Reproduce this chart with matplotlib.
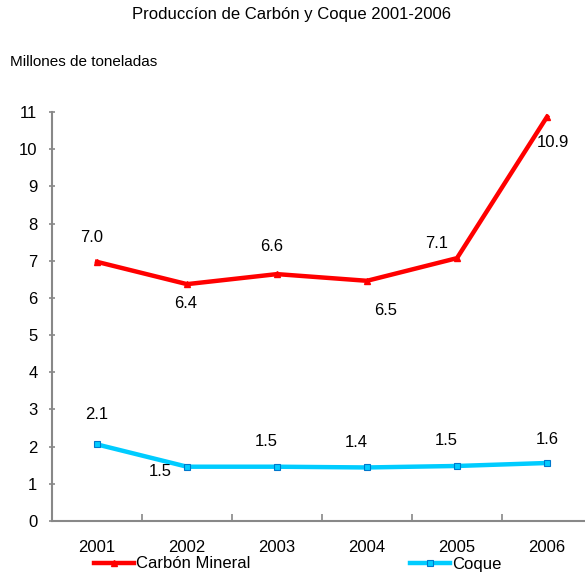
import matplotlib
matplotlib.use("Agg")
import matplotlib.pyplot as plt
from matplotlib.lines import Line2D

plt.rcParams['font.family'] = ['Liberation Sans', 'DejaVu Sans']

years = ['2001', '2002', '2003', '2004', '2005', '2006']
carbon = [6.97, 6.37, 6.64, 6.46, 7.07, 10.87]
coque = [2.06, 1.46, 1.46, 1.44, 1.48, 1.56]
# label offsets in pixels (dx, dy) from each point
carbon_off = [(-5, 24), (-1, -19), (-5, 28), (19, -30), (-20, 15), (6, -26)]
coque_off = [(0, 30), (-27, -5), (-11, 25), (-11, 25), (-11, 25), (0, 23)]

red = '#ff0000'
cyan = '#00ccff'

fig = plt.figure(figsize=(5.85, 5.73), dpi=100)
ax = fig.add_axes([52 / 585, 52 / 573, 540 / 585, 409 / 573])

x = list(range(1, len(years) + 1))
ax.plot(x, carbon, color=red, lw=3.2, marker='^', ms=4, mfc=red, mec=red)
ax.plot(x, coque, color=cyan, lw=3.2, marker='s', ms=4, mfc=cyan, mec='#0077cc', mew=0.8)

for xi, v, off in zip(x, carbon, carbon_off):
    ax.annotate(f'{v:.1f}', (xi, v), xytext=off, textcoords='offset pixels',
                ha='center', va='center', fontsize=12)
for xi, v, off in zip(x, coque, coque_off):
    ax.annotate(f'{v:.1f}', (xi, v), xytext=off, textcoords='offset pixels',
                ha='center', va='center', fontsize=12)

ax.set_xlim(0.5, 6.5)
ax.set_ylim(0, 11)
ax.set_yticks(range(0, 12))
ax.set_xticks(x)
ax.set_xticklabels(years)
ax.set_xticks([i + 0.5 for i in range(0, 7)], minor=True)
ax.tick_params(axis='x', which='major', length=0, labelsize=12, pad=14)
ax.tick_params(axis='x', which='minor', length=5, color='#888888', width=1.2, direction='in')
ax.tick_params(axis='y', length=5, color='#888888', width=1.2, labelsize=12, pad=8, direction='inout')
for s in ['top', 'right']:
    ax.spines[s].set_visible(False)
for s in ['left', 'bottom']:
    ax.spines[s].set_color('#888888')
    ax.spines[s].set_linewidth(1.5)

fig.text(292 / 585, 1 - 15 / 573, 'Produccíon de Carbón y Coque 2001-2006', ha='center', va='center', fontsize=12)
fig.text(10 / 585, 1 - 62 / 573, 'Millones de toneladas', ha='left', va='center', fontsize=11)

h1 = Line2D([], [], color=red, lw=3.2, marker='^', ms=4)
h2 = Line2D([], [], color=cyan, lw=3.2, marker='s', ms=4, mec='#0077cc', mew=0.8)
fig.legend([h1], ['Carbón Mineral'], loc='center left', bbox_to_anchor=(94 / 585, 1 - 564 / 573),
           frameon=False, fontsize=12, handlelength=2.4, handletextpad=0.1, borderpad=0, borderaxespad=0)
fig.legend([h2], ['Coque'], loc='center left', bbox_to_anchor=(410 / 585, 1 - 564 / 573),
           frameon=False, fontsize=12, handlelength=2.4, handletextpad=0.1, borderpad=0, borderaxespad=0)

fig.savefig('out.png', dpi=100)
